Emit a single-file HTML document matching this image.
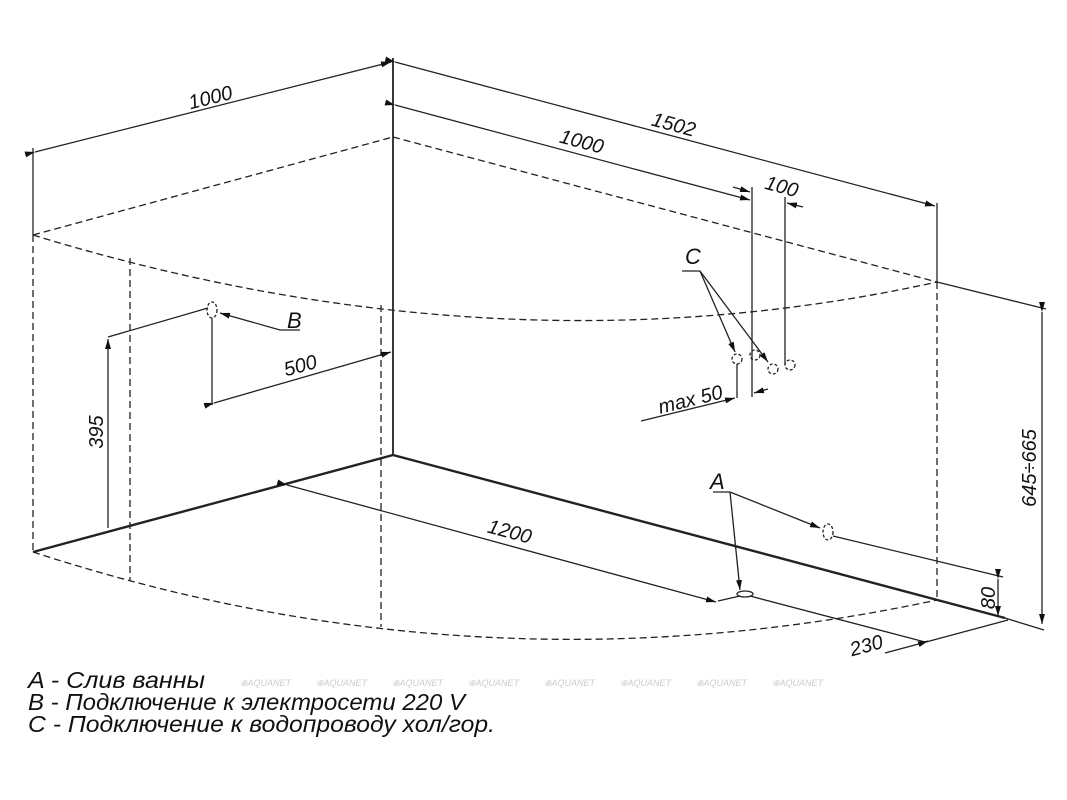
<!DOCTYPE html>
<html><head><meta charset="utf-8"><style>
html,body{margin:0;padding:0;background:#fff;}
svg{display:block;}
text{font-family:"Liberation Sans",sans-serif;font-style:italic;fill:#111;}
</style></head><body>
<svg width="1067" height="800" viewBox="0 0 1067 800" xmlns="http://www.w3.org/2000/svg">
<defs>
<marker id="ar" markerWidth="10" markerHeight="6" refX="10" refY="3" orient="auto" markerUnits="userSpaceOnUse"><path d="M0,0 L10,3 L0,6 z" fill="#111"/></marker>
</defs>
<g stroke="#222" stroke-width="1.3" fill="none">
<line x1="393" y1="58" x2="393" y2="455" stroke-width="1.8"/>
<line x1="33" y1="148" x2="33" y2="235"/>
<line x1="35" y1="152" x2="391" y2="62" marker-start="url(#ar)" marker-end="url(#ar)"/>
<line x1="395" y1="62" x2="935" y2="206" marker-start="url(#ar)" marker-end="url(#ar)"/>
<line x1="395" y1="105" x2="750" y2="200" marker-start="url(#ar)" marker-end="url(#ar)"/>
<line x1="752" y1="187" x2="752" y2="397"/>
<line x1="785" y1="197" x2="785" y2="365"/>
<line x1="937" y1="203" x2="937" y2="282"/>
<line x1="733" y1="187" x2="750" y2="192" marker-end="url(#ar)"/>
<line x1="803" y1="207" x2="787" y2="203" marker-end="url(#ar)"/>
<line x1="937" y1="282" x2="1046" y2="309"/>
<line x1="1042" y1="312" x2="1042" y2="624" marker-start="url(#ar)" marker-end="url(#ar)"/>
<g stroke-dasharray="7,4">
<line x1="33" y1="235" x2="393" y2="137"/>
<line x1="393" y1="137" x2="937" y2="282"/>
<path d="M33,235 Q500,378 937,282"/>
<line x1="33" y1="235" x2="33" y2="552"/>
<line x1="130" y1="258" x2="130" y2="580"/>
<line x1="381" y1="305" x2="381" y2="627"/>
<line x1="937" y1="282" x2="937" y2="600"/>
<path d="M33,552 Q480,698 937,600"/>
</g>
<line x1="33" y1="552" x2="393" y2="455" stroke-width="2.4"/>
<line x1="393" y1="455" x2="1005" y2="618" stroke-width="2.4"/>
<line x1="1005" y1="618" x2="1044" y2="630"/>
<line x1="108" y1="337" x2="208" y2="308"/>
<line x1="108" y1="528" x2="108" y2="339" marker-end="url(#ar)"/>
<ellipse cx="212" cy="310" rx="5" ry="8" stroke-dasharray="3,2"/>
<line x1="280" y1="330" x2="220" y2="313" marker-end="url(#ar)"/>
<line x1="280" y1="330" x2="300" y2="330"/>
<line x1="212" y1="318" x2="212" y2="405"/>
<line x1="214" y1="403" x2="391" y2="352" marker-start="url(#ar)" marker-end="url(#ar)"/>
<line x1="287" y1="485" x2="716" y2="602" marker-start="url(#ar)" marker-end="url(#ar)"/>
<line x1="682" y1="271" x2="700" y2="271"/>
<line x1="700" y1="271" x2="735" y2="352" marker-end="url(#ar)"/>
<line x1="700" y1="271" x2="768" y2="362" marker-end="url(#ar)"/>
<g stroke-dasharray="3,2">
<circle cx="737" cy="359" r="5"/><circle cx="755" cy="355" r="5"/>
<circle cx="773" cy="369" r="5"/><circle cx="790" cy="365" r="5"/>
</g>
<line x1="737" y1="364" x2="737" y2="398"/>
<line x1="641" y1="421" x2="735" y2="398" marker-end="url(#ar)"/>
<line x1="768" y1="389" x2="754" y2="393" marker-end="url(#ar)"/>
<line x1="713" y1="492" x2="730" y2="492"/>
<line x1="730" y1="492" x2="740" y2="590" marker-end="url(#ar)"/>
<line x1="730" y1="492" x2="820" y2="528" marker-end="url(#ar)"/>
<ellipse cx="828" cy="532" rx="5" ry="8" stroke-dasharray="3,2"/>
<ellipse cx="745" cy="594" rx="8" ry="3"/>
<line x1="718" y1="601" x2="740" y2="596"/>
<line x1="833" y1="536" x2="1003" y2="577"/>
<line x1="998" y1="579" x2="998" y2="616" marker-start="url(#ar)" marker-end="url(#ar)"/>
<line x1="750" y1="596" x2="925" y2="642"/>
<line x1="885" y1="653" x2="1008" y2="620"/>
<line x1="925" y1="642" x2="928" y2="641" marker-end="url(#ar)"/>
</g>
<g font-size="20">
<text transform="translate(212,104) rotate(-14)" text-anchor="middle">1000</text>
<text transform="translate(672,131) rotate(15)" text-anchor="middle">1502</text>
<text transform="translate(580,148) rotate(15)" text-anchor="middle">1000</text>
<text transform="translate(780,193) rotate(15)" text-anchor="middle">100</text>
<text x="685" y="264" font-size="22">C</text>
<text x="287" y="328" font-size="22">B</text>
<text transform="translate(302,372) rotate(-15)" text-anchor="middle">500</text>
<text transform="translate(103,432) rotate(-90)" text-anchor="middle">395</text>
<text transform="translate(692,406) rotate(-14)" text-anchor="middle">max 50</text>
<text transform="translate(508,538) rotate(15)" text-anchor="middle">1200</text>
<text x="710" y="489" font-size="22">A</text>
<text transform="translate(1036,468) rotate(-90)" text-anchor="middle">645÷665</text>
<text transform="translate(995,598) rotate(-90)" text-anchor="middle">80</text>
<text transform="translate(868,652) rotate(-15)" text-anchor="middle">230</text>
</g>
<g font-size="23">
<text x="28" y="688" textLength="177" lengthAdjust="spacingAndGlyphs">A - Слив ванны</text>
<text x="28" y="710" textLength="437" lengthAdjust="spacingAndGlyphs">B - Подключение к электросети 220 V</text>
<text x="28" y="732" textLength="467" lengthAdjust="spacingAndGlyphs">C - Подключение к водопроводу хол/гор.</text>
</g>
<g font-size="9" style="font-style:normal">
<text x="240" y="686" style="fill:#ccc">⊕AQUANET</text><text x="316" y="686" style="fill:#ccc">⊕AQUANET</text>
<text x="392" y="686" style="fill:#ccc">⊕AQUANET</text><text x="468" y="686" style="fill:#ccc">⊕AQUANET</text>
<text x="544" y="686" style="fill:#ccc">⊕AQUANET</text><text x="620" y="686" style="fill:#ccc">⊕AQUANET</text>
<text x="696" y="686" style="fill:#ccc">⊕AQUANET</text><text x="772" y="686" style="fill:#ccc">⊕AQUANET</text>
</g>
</svg>
</body></html>
